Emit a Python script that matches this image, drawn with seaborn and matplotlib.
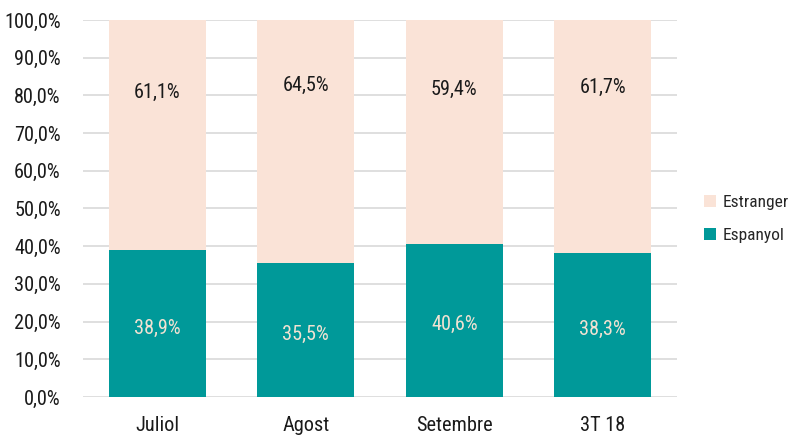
import matplotlib
matplotlib.use("Agg")
import matplotlib.pyplot as plt
import seaborn as sns
import pandas as pd
from matplotlib.patches import Patch
from matplotlib import font_manager

categories = ["Juliol", "Agost", "Setembre", "3T 18"]
espanyol = [38.9, 35.5, 40.6, 38.3]
estranger = [61.1, 64.5, 59.4, 61.7]
yticks = [0, 10, 20, 30, 40, 50, 60, 70, 80, 90, 100]

sns.set_theme(style="white")

# pick a narrow font if one is installed
fonts = font_manager.fontManager.ttflist
names = {f.name for f in fonts}
fam = None
stretch = "normal"
for cand in ["Liberation Sans Narrow", "Arial Narrow", "Roboto Condensed", "Open Sans Condensed"]:
    if cand in names:
        fam = cand
        break
if fam is None:
    for f in fonts:
        if f.name in ("DejaVu Sans", "Roboto", "Open Sans", "Noto Sans") and str(f.stretch) in ("condensed", "semi-condensed", "500", "semicondensed"):
            fam = f.name
            stretch = "condensed"
            break
if fam is None:
    fam = "Liberation Sans"
    fs, lfs = 12.5, 11
else:
    fs, lfs = 14.6, 12.5
plt.rcParams['font.family'] = [fam, 'DejaVu Sans']
plt.rcParams['font.stretch'] = stretch

teal = "#009999"
peach = "#FAE3D7"

df = pd.DataFrame({"cat": categories, "esp": espanyol, "est": estranger})
df["total"] = df["esp"] + df["est"]

fig = plt.figure(figsize=(7.92, 4.36), dpi=100)
ax = fig.add_axes([83/792, 1 - 397/436, (677-83)/792, (397-20)/436])

sns.barplot(data=df, x="cat", y="total", color=peach, width=0.65, ax=ax,
            saturation=1, edgecolor="none")
sns.barplot(data=df, x="cat", y="esp", color=teal, width=0.65, ax=ax,
            saturation=1, edgecolor="none")

esp_label_y = [18.3, 16.6, 19.2, 17.9]
est_label_y = [80.8, 82.6, 81.5, 82.1]
for i, (e, s) in enumerate(zip(espanyol, estranger)):
    ax.text(i, esp_label_y[i], f"{e:.1f}%".replace(".", ","), ha="center", va="center",
            fontsize=fs, color="#F2E2D2")
    ax.text(i, est_label_y[i], f"{s:.1f}%".replace(".", ","), ha="center", va="center",
            fontsize=fs, color="#1a1a1a")

ax.set_ylim(0, 100)
ax.set_xlim(-0.5, 3.5)
ax.set_yticks(yticks)
ax.set_yticklabels([f"{v:.1f}%".replace(".", ",") for v in yticks], fontsize=fs, color="#1a1a1a")
ax.tick_params(axis="x", labelsize=fs, colors="#1a1a1a", length=0, pad=14)
ax.tick_params(axis="y", length=0, pad=16)
ax.set_xlabel("")
ax.set_ylabel("")
ax.yaxis.grid(True, color="#D9D9D9", linewidth=1.2)
ax.set_axisbelow(True)
for sp in ax.spines.values():
    sp.set_visible(False)

handles = [Patch(facecolor=peach, edgecolor="none", label="Estranger"),
           Patch(facecolor=teal, edgecolor="none", label="Espanyol")]
fig.legend(handles=handles, loc="center left", bbox_to_anchor=(704/792, 1 - 219/436),
           frameon=False, fontsize=lfs, handlelength=0.68, handleheight=0.68,
           handletextpad=0.4, labelspacing=1.05, borderaxespad=0, borderpad=0)

fig.savefig("out.png", dpi=100)
